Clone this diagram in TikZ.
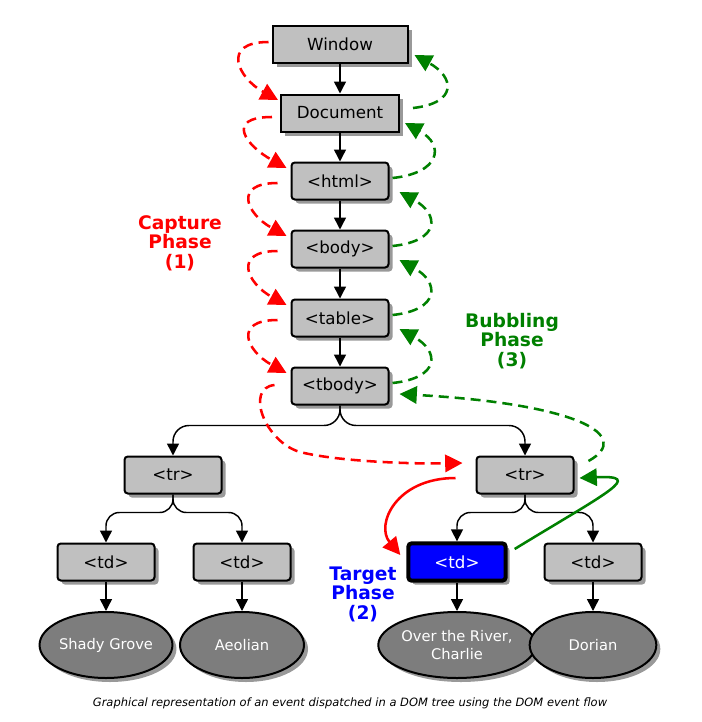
\documentclass[tikz,border=0pt]{standalone}
\usepackage{fontspec}
\setmainfont{DejaVu Sans}
\usetikzlibrary{arrows.meta,shadows,calc,shapes.geometric}
\definecolor{silver}{RGB}{192,192,192}
\definecolor{dgreen}{RGB}{0,128,0}
\definecolor{egray}{RGB}{125,125,125}
\begin{document}
\begin{tikzpicture}[x=0.75pt,y=-0.75pt,
  shad/.style={drop shadow={shadow xshift=3pt, shadow yshift=-3pt, fill=black!40, opacity=1}},
  box/.style={shad, draw=black, line width=1.5pt, fill=silver, rounded corners=2.5pt,
    minimum width=72.75pt, minimum height=27.75pt, inner sep=0pt,
    font=\fontsize{12.5}{14}\selectfont},
  sqbox/.style={box, rounded corners=0pt},
  tgt/.style={box, fill=blue, text=white, line width=3pt, minimum width=73pt, minimum height=28pt},
  ell/.style={shad, ellipse, draw=black, line width=1.5pt, fill=egray, text=white,
    minimum height=49.5pt, inner sep=0pt, align=center,
    font=\fontsize{11}{14}\selectfont},
  tree/.style={draw=black, line width=1.1pt, -{Triangle[length=9pt,width=9pt]}},
  capt/.style={draw=red, line width=1.9pt, dash pattern=on 7.5pt off 4.5pt, -{Triangle[length=13pt,width=13pt]}},
  capsolid/.style={draw=red, line width=1.9pt, -{Triangle[length=13pt,width=13pt]}},
  bub/.style={draw=dgreen, line width=1.9pt, dash pattern=on 7.5pt off 4.5pt, -{Triangle[length=13pt,width=13pt]}},
  bubsolid/.style={draw=dgreen, line width=1.9pt, -{Triangle[length=13pt,width=13pt]}},
  phase/.style={align=center, font=\fontsize{14}{14.6}\selectfont\bfseries}
]
\useasboundingbox (0,0) rectangle (701,722);

% nodes
\node[sqbox, minimum width=101.25pt] (win) at (340,44) {Window};
\node[sqbox, minimum width=88.5pt] (doc) at (340,113) {Document};
\node[box] (html) at (340,181) {<html>};
\node[box] (body) at (340,249) {<body>};
\node[box] (table) at (340,318) {<table>};
\node[box] (tbody) at (340,386) {<tbody>};
\node[box] (trl) at (173,475) {<tr>};
\node[box] (trr) at (525,475) {<tr>};
\node[box] (td1) at (106,562) {<td>};
\node[box] (td2) at (242,562) {<td>};
\node[tgt] (tdt) at (457,562) {<td>};
\node[box] (td4) at (593,562) {<td>};
\node[ell, minimum width=96pt] (e1) at (106,645) {Shady Grove};
\node[ell, minimum width=93pt] (e2) at (242,645) {Aeolian};
\node[ell, minimum width=99pt] (e3) at (457,645) {Over the River,\\Charlie};
\node[ell, minimum width=95pt] (e4) at (593,645) {Dorian};

% tree edges
\draw[tree] (win.south) -- (doc.north);
\draw[tree] (doc.south) -- (html.north);
\draw[tree] (html.south) -- (body.north);
\draw[tree] (body.south) -- (table.north);
\draw[tree] (table.south) -- (tbody.north);
\draw[tree, rounded corners=12pt] (tbody.south) -- ++(0,20) -| (trl.north);
\draw[tree, rounded corners=12pt] (tbody.south) -- ++(0,20) -| (trr.north);
\draw[tree, rounded corners=10pt] (trl.south) -- ++(0,18) -| (td1.north);
\draw[tree, rounded corners=10pt] (trl.south) -- ++(0,18) -| (td2.north);
\draw[tree, rounded corners=10pt] (trr.south) -- ++(0,18) -| (tdt.north);
\draw[tree, rounded corners=10pt] (trr.south) -- ++(0,18) -| (td4.north);
\draw[tree] (td1.south) -- (e1.north);
\draw[tree] (td2.south) -- (e2.north);
\draw[tree] (tdt.south) -- (e3.north);
\draw[tree] (td4.south) -- (e4.north);

% capture phase
\draw[capt] ($(win.west)+(-3,-2)$) .. controls +(-48,0) and +(-40,-22) .. ($(doc.west)+(-2,-13)$);
\draw[capt] ($(doc.west)+(-8,4)$) .. controls +(-48,0) and +(-40,-22) .. ($(html.west)+(-4,-13)$);
\draw[capt] ($(html.west)+(-13,2)$) .. controls +(-45,0) and +(-40,-22) .. ($(body.west)+(-4,-13)$);
\draw[capt] ($(body.west)+(-13,2)$) .. controls +(-45,0) and +(-40,-22) .. ($(table.west)+(-4,-13)$);
\draw[capt] ($(table.west)+(-13,2)$) .. controls +(-45,0) and +(-40,-22) .. ($(tbody.west)+(-4,-13)$);
\coordinate (capmid) at (300,452);
\draw[capt] ($(tbody.west)+(-16,-1)$) .. controls +(-30,3) and +(-35,-10) .. (capmid)
  .. controls +(40,10) and +(-45,1) .. ($(trr.west)+(-13,-12)$);

% target phase
\draw[capsolid] ($(trr.west)+(-20,3)$) .. controls +(-60,0) and +(-25,-30) .. ($(tdt.west)+(-6,-7)$);
\draw[bubsolid] ($(tdt.east)+(7,-13)$) .. controls +(95,-58) and +(65,-3) .. ($(trr.east)+(5,3)$);

% bubbling phase
\draw[bub] ($(doc.east)+(13,-5)$) .. controls +(45,-5) and +(40,22) .. ($(win.east)+(6,11)$);
\draw[bub] ($(html.east)+(3,-3)$) .. controls +(48,-5) and +(40,22) .. ($(doc.east)+(5,10)$);
\draw[bub] ($(body.east)+(3,-3)$) .. controls +(48,-5) and +(40,22) .. ($(html.east)+(10,11)$);
\draw[bub] ($(table.east)+(3,-3)$) .. controls +(48,-5) and +(40,22) .. ($(body.east)+(10,11)$);
\draw[bub] ($(tbody.east)+(3,-3)$) .. controls +(48,-5) and +(40,22) .. ($(table.east)+(10,11)$);
\draw[bub] ($(trr.east)+(14,-14)$) .. controls +(45,-25) and +(180,10) .. ($(tbody.east)+(10,8)$);

% labels
\node[phase, red] (capl) at (180,243) {Capture\\Phase\\(1)};
\node[phase, dgreen] (bubl) at (512,341) {Bubbling\\Phase\\(3)};
\node[phase, blue] (tgtl) at (363,594) {Target\\Phase\\(2)};
\node[font=\fontsize{8.6}{10}\selectfont\itshape] (caption) at (350,703) {Graphical representation of an event dispatched in a DOM tree using the DOM event flow};
\end{tikzpicture}
\end{document}
